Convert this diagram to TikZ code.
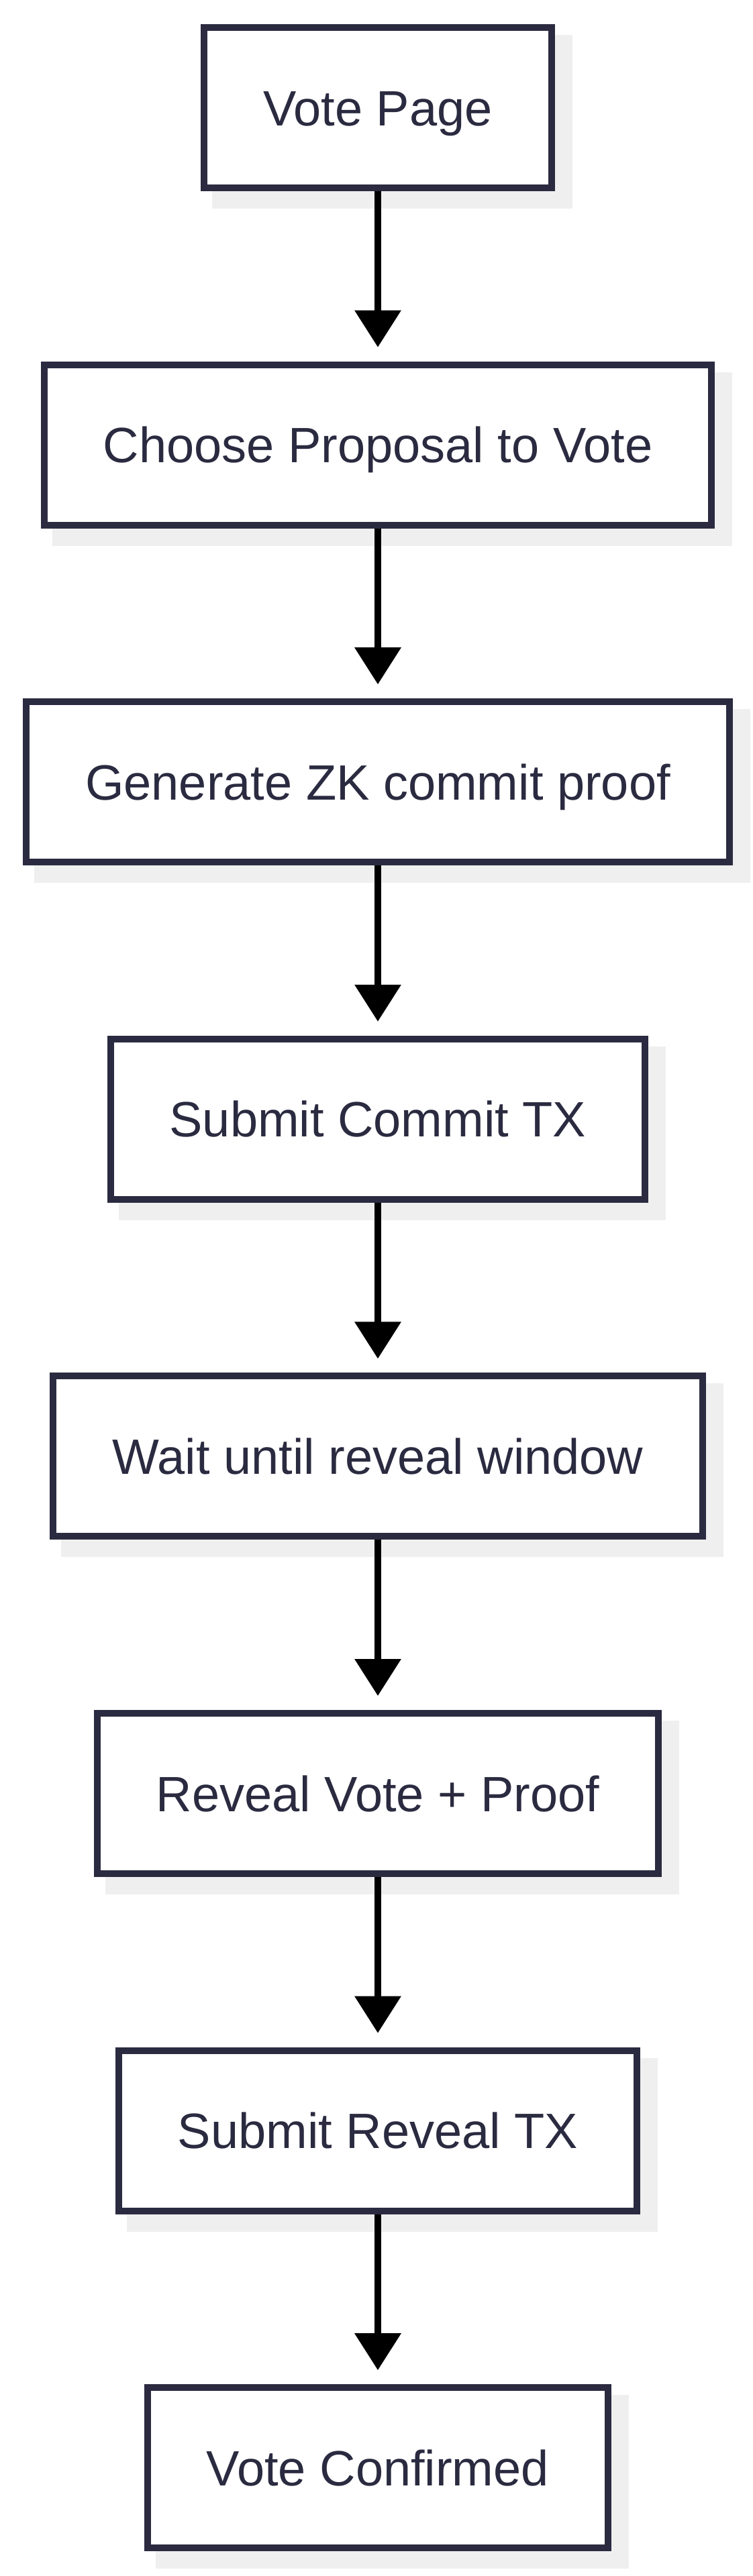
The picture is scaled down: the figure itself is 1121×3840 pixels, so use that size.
\documentclass[tikz,border=0pt]{standalone}
\usepackage{fontspec}
\setmainfont{Liberation Sans}
\usepackage{xcolor}
\usepackage{tikz}
\usetikzlibrary{arrows.meta,backgrounds}

\definecolor{boxline}{HTML}{2A2A40}
\definecolor{shadowgray}{HTML}{EFEFEF}

\tikzset{
  stepbox/.style={draw=boxline, line width=5pt, fill=white, text=boxline,
    minimum height=119.5pt, inner xsep=44pt, text height=26.5pt, text depth=0pt,
    font=\fontsize{37}{44}\selectfont},
  flow/.style={line width=5pt, -{Triangle[width=33.5pt,length=27.5pt]}, shorten >=10.5pt}
}

\begin{document}
\begin{tikzpicture}[x=0.5pt, y=-0.5pt]
  \useasboundingbox (0,0) rectangle (1121,3840);
  % voting steps, top to bottom
  \node[stepbox] (vote)    at (563,160.5)  {Vote Page};
  \node[stepbox] (choose)  at (563,663.1)  {Choose Proposal to Vote};
  \node[stepbox] (zkproof) at (563,1165.7) {Generate ZK commit proof};
  \node[stepbox] (commit)  at (563,1668.3) {Submit Commit TX};
  \node[stepbox] (wait)    at (563,2170.9) {Wait until reveal window};
  \node[stepbox] (reveal)  at (563,2673.5) {Reveal Vote + Proof};
  \node[stepbox] (revtx)   at (563,3176.1) {Submit Reveal TX};
  \node[stepbox] (done)    at (563,3678.7) {Vote Confirmed};
  % white page, then grey shadows behind the boxes
  \begin{scope}[on background layer]
    \fill[white] (0,0) rectangle (1121,3840);
    \foreach \n in {vote,choose,zkproof,commit,wait,reveal,revtx,done}
      \fill[shadowgray] ([shift={(8.5pt,-8pt)}]\n.north west) rectangle ([shift={(13pt,-13pt)}]\n.south east);
  \end{scope}
  % arrows between steps
  \draw[flow] (vote) -- (choose);
  \draw[flow] (choose) -- (zkproof);
  \draw[flow] (zkproof) -- (commit);
  \draw[flow] (commit) -- (wait);
  \draw[flow] (wait) -- (reveal);
  \draw[flow] (reveal) -- (revtx);
  \draw[flow] (revtx) -- (done);
\end{tikzpicture}
\end{document}
